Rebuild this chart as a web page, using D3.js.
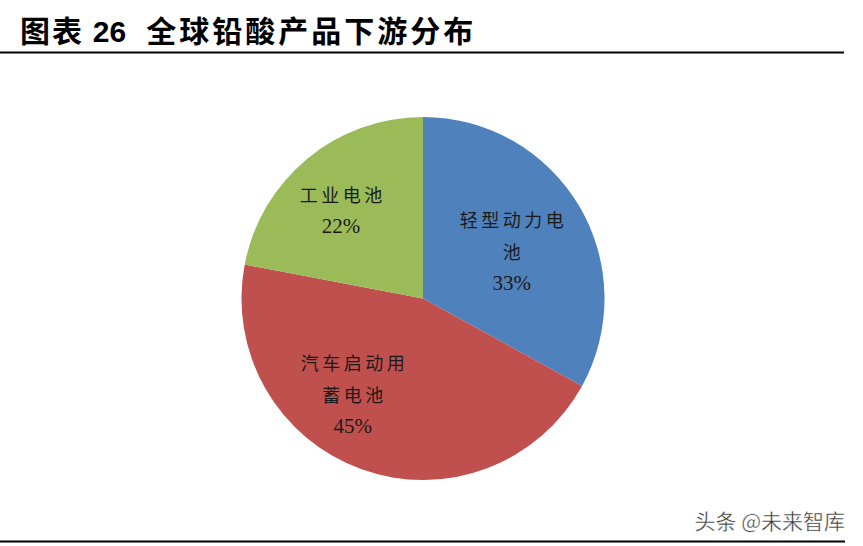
<!DOCTYPE html>
<html><head><meta charset="utf-8">
<script src="https://cdn.jsdelivr.net/npm/d3@7"></script>
<style>body{margin:0;background:#fff;}svg{display:block;}</style>
</head><body>
<script>
const categories = ["轻型动力电池", "汽车启动用蓄电池", "工业电池"];
const labelLines = [["轻型动力电", "池"], ["汽车启动用", "蓄电池"], ["工业电池"]];
const values = [33, 45, 22];
const colors = ["#4F81BD", "#C0504D", "#9BBB59"];

const W = 863, H = 546;
const svg = d3.select("body").append("svg").attr("width", W).attr("height", H);

// title
const title = svg.append("text").attr("x", 20).attr("y", 42)
  .attr("font-size", 30).attr("font-weight", "bold").attr("fill", "#000");
title.append("tspan").attr("font-family", "'Noto Sans CJK SC'").attr("letter-spacing", 2).text("图表 ");
title.append("tspan").attr("font-family", "'Liberation Sans', Arial").text("26");
title.append("tspan").attr("font-family", "'Noto Sans CJK SC'").attr("dx", 20).attr("letter-spacing", 3).text("全球铅酸产品下游分布");

svg.append("line").attr("x1", 0).attr("x2", 844).attr("y1", 52.5).attr("y2", 52.5)
  .attr("stroke", "#000").attr("stroke-width", 2);
svg.append("line").attr("x1", 0).attr("x2", 845).attr("y1", 541.5).attr("y2", 541.5)
  .attr("stroke", "#000").attr("stroke-width", 2);

// pie
const cx = 423, cy = 298.5, R = 181.5;
const pie = d3.pie().sort(null).value(d => d)(values);
const arc = d3.arc().innerRadius(0).outerRadius(R);
const g = svg.append("g").attr("transform", `translate(${cx},${cy})`);
g.selectAll("path").data(pie).join("path")
  .attr("d", arc).attr("fill", (d, i) => colors[i]);

const labelArc = d3.arc().innerRadius(0).outerRadius(2 * 110);
const offsets = [[-6, 8.5], [-33, -8], [-12, -4]];
const lineH = 32;
pie.forEach((d, i) => {
  const c = labelArc.centroid(d);
  const lines = labelLines[i].concat([values[i] + "%"]);
  const x = c[0] + offsets[i][0], yc = c[1] + offsets[i][1];
  const y0 = yc - (lines.length - 1) * lineH / 2;
  lines.forEach((t, j) => {
    const isPct = j === lines.length - 1;
    g.append("text").attr("x", x + (isPct ? 0 : 1.75)).attr("y", y0 + j * lineH)
      .attr("text-anchor", "middle").attr("dominant-baseline", "central")
      .attr("font-size", isPct ? 21 : 18)
      .attr("font-family", isPct ? "'Liberation Serif', serif" : "'Noto Sans CJK SC'")
      .attr("letter-spacing", isPct ? 0 : 3.5)
      .attr("fill", "#1a1a1a").text(t);
  });
});

// watermark
svg.append("text").attr("x", 845).attr("y", 529).attr("text-anchor", "end")
  .attr("font-size", 21).attr("font-family", "'Noto Sans CJK SC'")
  .attr("fill", "#333").attr("stroke", "#fff").attr("stroke-width", 0.4)
  .text("头条 @未来智库");
</script>
</body></html>
